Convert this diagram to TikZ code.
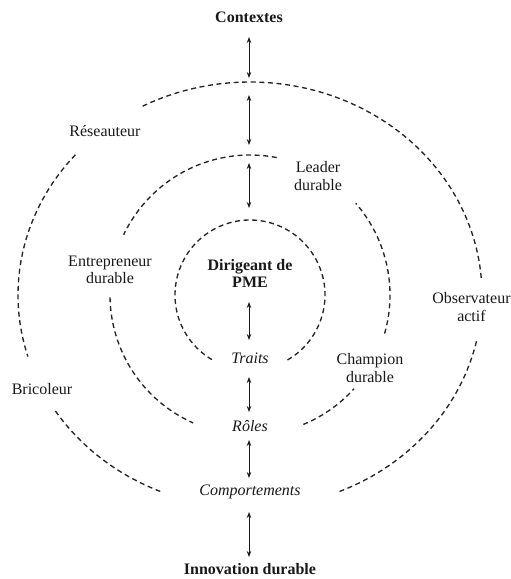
\documentclass[tikz,border=0pt]{standalone}
\usepackage{fontspec}
\setmainfont{Liberation Serif}
\usetikzlibrary{arrows.meta}
\begin{document}
\begin{tikzpicture}[x=1pt,y=1pt,
  ring/.style={dash pattern=on 5pt off 3.6pt, line width=1.35pt, black!85},
  arr/.style={{Stealth[length=6pt,width=4.5pt]}-{Stealth[length=6pt,width=4.5pt]}, line width=1pt, black!90},
  lbl/.style={font=\fontsize{16}{17.5}\selectfont, align=center, inner sep=0pt, text=black!90},
  bl/.style={lbl, font=\fontsize{16}{17}\selectfont\bfseries},
  it/.style={lbl, font=\fontsize{16}{17.5}\selectfont\itshape}]
\useasboundingbox (0,0) rectangle (511,-579);
\coordinate (C) at (250,-295);
% outer ring
\draw[ring] (C) ++(4.6:232 and 213) arc[start angle=4.6,end angle=117.7,x radius=232,y radius=213];
\draw[ring] (C) ++(138.8:232 and 213) arc[start angle=138.8,end angle=196.8,x radius=232,y radius=213];
\draw[ring] (C) ++(213:232 and 213) arc[start angle=213,end angle=247.5,x radius=232,y radius=213];
\draw[ring] (C) ++(292.7:232 and 213) arc[start angle=292.7,end angle=348,x radius=232,y radius=213];
% middle ring
\draw[ring] (C) ++(79:140) arc[start angle=79,end angle=154.5,radius=140];
\draw[ring] (C) ++(181:140) arc[start angle=181,end angle=246,radius=140];
\draw[ring] (C) ++(292.4:140) arc[start angle=292.4,end angle=318,radius=140];
\draw[ring] (C) ++(-16:140) arc[start angle=-16,end angle=41,radius=140];
% inner ring
\draw[ring] (C) ++(-60:75) arc[start angle=-60,end angle=240,radius=75];
% texts
\node[bl] (ctx) at (249,-17) {Contextes};
\node[lbl] (res) at (105,-131) {Réseauteur};
\node[lbl] (lead) at (318,-176) {Leader\\durable};
\node[lbl] (entr) at (110,-270) {Entrepreneur\\durable};
\node[bl] (dir) at (250,-273) {Dirigeant de\\PME};
\node[lbl] (obs) at (471.5,-307) {Observateur\\actif};
\node[it] (tr) at (250,-358) {Traits};
\node[lbl] (champ) at (370,-368) {Champion\\durable};
\node[lbl] (bric) at (42,-389) {Bricoleur};
\node[it] (rol) at (250,-426) {Rôles};
\node[it] (comp) at (250,-492) {Comportements};
\node[bl] (inno) at (250,-569) {Innovation durable};
% arrow ends
\coordinate (a1s) at (249,-37);  \coordinate (a1e) at (249,-78);
\coordinate (a2s) at (249,-95);  \coordinate (a2e) at (249,-145);
\coordinate (a3s) at (249,-163); \coordinate (a3e) at (249,-208);
\coordinate (a4s) at (249,-302); \coordinate (a4e) at (249,-340);
\coordinate (a5s) at (249,-377); \coordinate (a5e) at (249,-412);
\coordinate (a6s) at (249,-440); \coordinate (a6e) at (249,-478);
\coordinate (a7s) at (249,-512); \coordinate (a7e) at (249,-557);
\draw[arr] (a1s) -- (a1e);
\draw[arr] (a2s) -- (a2e);
\draw[arr] (a3s) -- (a3e);
\draw[arr] (a4s) -- (a4e);
\draw[arr] (a5s) -- (a5e);
\draw[arr] (a6s) -- (a6e);
\draw[arr] (a7s) -- (a7e);
\end{tikzpicture}
\end{document}
